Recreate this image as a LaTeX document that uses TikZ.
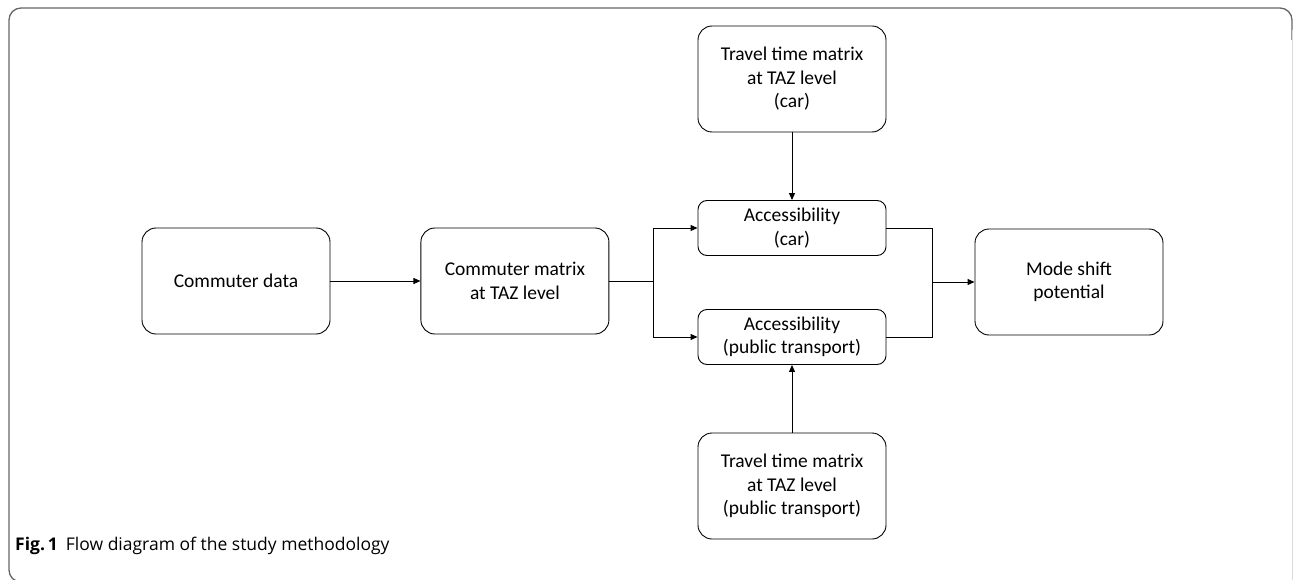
\documentclass[tikz,border=0pt]{standalone}
\usepackage{fontspec}
\setmainfont{Carlito}
\newfontfamily\captionfont{Open Sans}
\usetikzlibrary{arrows.meta,positioning}
\colorlet{framegray}{black!60}

\begin{document}
\begin{tikzpicture}[
  x=1pt, y=-1pt,
  >={Triangle[length=7pt,width=6pt]},
  box/.style = {draw, line width=0.9pt, rounded corners=14pt, align=center,
    minimum width=188pt, minimum height=106pt, inner sep=2pt,
    font=\fontsize{19.5}{23.5}\selectfont},
  smallbox/.style = {box, rounded corners=9pt, minimum height=55pt},
  link/.style = {line width=0.9pt}
  ]
  \useasboundingbox (0,0) rectangle (1295,580);
  % Frame
  \draw[framegray, line width=1.3pt, rounded corners=12pt]
    (22,582) -- (9,582) -- (9,8) -- (1292,8) -- (1292,40);
  \draw[black!15, line width=1pt] (1292,30) -- (1292,580);
  % Boxes
  \node[box] (data) at (236,281) {Commuter data};
  \node[box, right=90pt of data] (cmatrix) {Commuter matrix\\at TAZ level};
  \node[smallbox] (acar) at (792,228) {Accessibility\\(car)};
  \node[smallbox] (apt) at (792,337) {Accessibility\\(public transport)};
  \node[box] (ttcar) at (792,79) {Travel time matrix\\at TAZ level\\(car)};
  \node[box] (ttpt) at (792,486) {Travel time matrix\\at TAZ level\\(public transport)};
  \node[box] (shift) at (1069,282) {Mode shift\\potential};
  % Links
  \coordinate (split) at (653,281);
  \coordinate (join) at (932,282);
  \draw[link,->] (data) -- (cmatrix);
  \draw[link] (cmatrix.east) -- (split);
  \draw[link,->] (split) |- (acar.west);
  \draw[link,->] (split) |- (apt.west);
  \draw[link] (acar.east) -| (join);
  \draw[link] (apt.east) -| (join);
  \draw[link,->] (join) -- (shift.west);
  \draw[link,->] (ttcar) -- (acar);
  \draw[link,->] (ttpt) -- (apt);
  % Caption
  \node[anchor=base west, inner sep=0pt, font=\captionfont\fontsize{17.5}{20}\selectfont]
    (caption) at (15,550) {\textbf{Fig.\,1}\hspace{8pt}Flow diagram of the study methodology};
\end{tikzpicture}
\end{document}
